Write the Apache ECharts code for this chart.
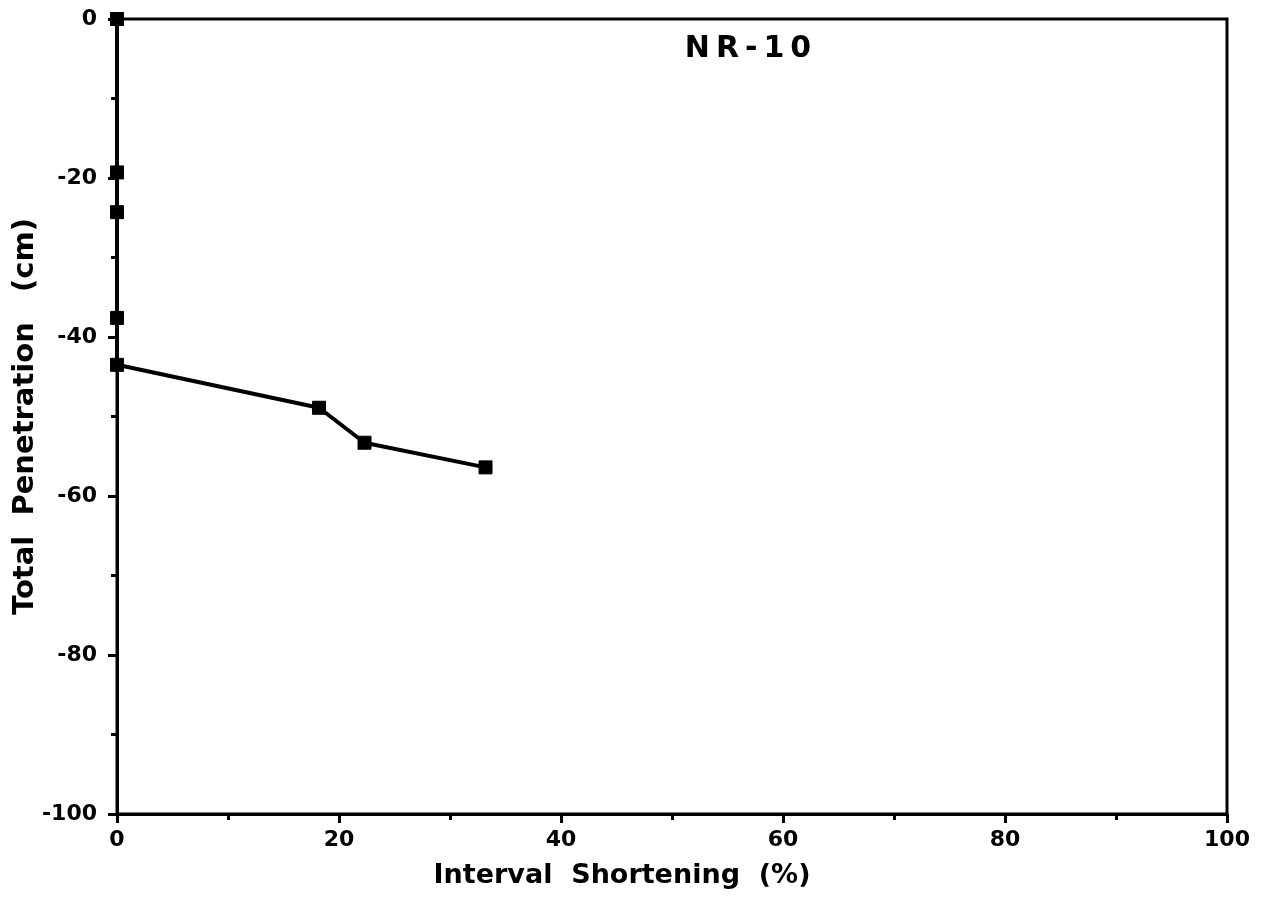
<!DOCTYPE html>
<html>
<head>
<meta charset="utf-8">
<script src="https://cdn.jsdelivr.net/npm/echarts@6/dist/echarts.min.js"></script>
<style>
  html, body { margin: 0; padding: 0; background: #fff; }
  #chart { width: 1264px; height: 909px; }
</style>
</head>
<body>
<div id="chart"></div>
<script>
  // 数据
  var shortening = [0, 0, 0, 0, 0, 18.2, 22.3, 33.2]
  var penetration = [0, -19.3, -24.3, -37.6, -43.5, -48.9, -53.3, -56.4]
  var xTicks = [0, 20, 40, 60, 80, 100]
  var yTicks = [0, -20, -40, -60, -80, -100]

  var points = shortening.map(function (x, i) { return [x, penetration[i]] })
  var font = '"DejaVu Sans", "Liberation Sans", Arial, sans-serif'

  var chart = echarts.init(document.getElementById('chart'))
  var option = {
    backgroundColor: '#fff',
    animation: false,
    title: {
      text: 'N\u2009R\u2009-\u20091\u20090',
      left: 743,
      top: 29,
      textAlign: 'center',
      textStyle: { fontFamily: font, fontWeight: 'bold', fontSize: 30, color: '#000' }
    },
    grid: {
      left: 117, right: 37, top: 19, bottom: 95,
      outerBoundsMode: 'none',
      show: true,
      borderColor: '#000',
      borderWidth: 3
    },
    xAxis: {
      type: 'value',
      min: xTicks[0],
      max: xTicks[xTicks.length - 1],
      interval: 20,
      name: 'Interval  Shortening  (%)',
      nameLocation: 'middle',
      nameGap: 48,
      nameMoveOverlap: false,
      nameTextStyle: { fontFamily: font, fontWeight: 'bold', fontSize: 27, color: '#000', padding: [0, 100, 0, 0] },
      axisLine: { onZero: false, lineStyle: { color: '#000', width: 3 } },
      axisTick: { length: 9, lineStyle: { color: '#000', width: 3 } },
      minorTick: { show: true, splitNumber: 2, length: 6, lineStyle: { color: '#000', width: 3 } },
      splitLine: { show: false },
      axisLabel: { fontFamily: font, fontWeight: 'bold', fontSize: 22, color: '#000', margin: 15 }
    },
    yAxis: {
      type: 'value',
      min: yTicks[yTicks.length - 1],
      max: yTicks[0],
      interval: 20,
      name: 'Total  Penetration   (cm)',
      nameLocation: 'middle',
      nameGap: 77,
      nameMoveOverlap: false,
      nameTextStyle: { fontFamily: font, fontWeight: 'bold', fontSize: 29, color: '#000' },
      axisLine: { onZero: false, lineStyle: { color: '#000', width: 3 } },
      axisTick: { length: 9, lineStyle: { color: '#000', width: 3 } },
      minorTick: { show: true, splitNumber: 2, length: 6, lineStyle: { color: '#000', width: 3 } },
      splitLine: { show: false },
      axisLabel: { fontFamily: font, fontWeight: 'bold', fontSize: 22, color: '#000', margin: 20 }
    },
    series: [{
      type: 'line',
      data: points,
      symbol: 'rect',
      symbolSize: 13,
      clip: false,
      lineStyle: { color: '#000', width: 4 },
      itemStyle: { color: '#000', borderColor: '#000', borderWidth: 1 }
    }]
  }
  chart.setOption(option)
</script>
</body>
</html>
